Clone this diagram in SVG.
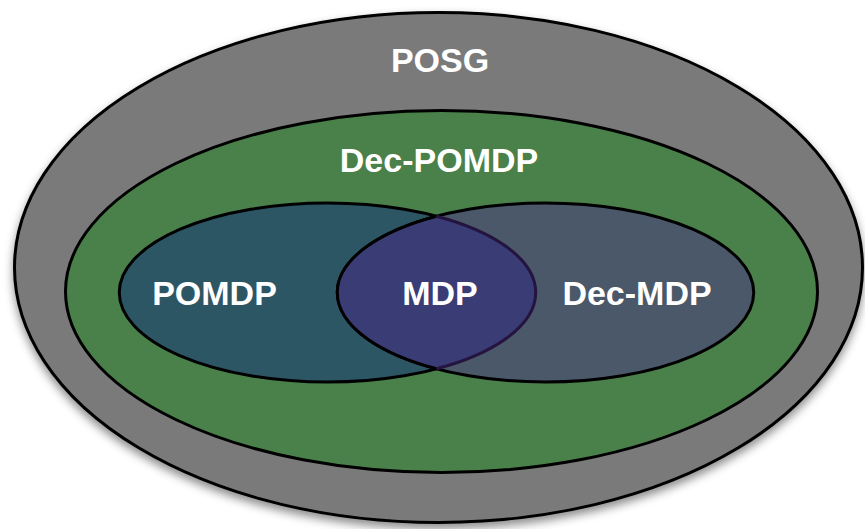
<svg xmlns="http://www.w3.org/2000/svg" width="865" height="529" viewBox="0 0 865 529">
  <defs>
    <filter id="shadow" x="-10%" y="-10%" width="120%" height="125%">
      <feDropShadow dx="0" dy="5" stdDeviation="5" flood-color="#000" flood-opacity="0.45"/>
    </filter>
  </defs>
  <style>
    .set { stroke: #000; stroke-width: 3; }
    .label { font-family: "Liberation Sans", Arial, sans-serif; font-weight: bold; font-size: 34px; fill: #fff; text-anchor: middle; }
  </style>
  <rect width="865" height="529" fill="#fff"/>

  <g id="posg">
    <ellipse class="set" cx="438.5" cy="267.5" rx="424" ry="255" fill="#7a7a7a" filter="url(#shadow)"/>
    <text class="label" x="440" y="72">POSG</text>
  </g>

  <g id="dec-pomdp">
    <ellipse class="set" cx="441.5" cy="291.5" rx="376" ry="181" fill="#4a8049"/>
    <text class="label" x="439" y="172">Dec-POMDP</text>
  </g>

  <g id="pomdp">
    <ellipse class="set" cx="327.5" cy="292.5" rx="208.25" ry="89.5" fill="#2d5665"/>
    <text class="label" x="214.5" y="305">POMDP</text>
  </g>

  <g id="dec-mdp">
    <ellipse class="set" cx="545.5" cy="292.5" rx="208.25" ry="89.5" fill="#4a5869"/>
    <text class="label" x="637" y="305">Dec-MDP</text>
  </g>

  <g id="mdp">
    <path d="M436.5,216.25 A208.25,89.5 0 0 0 436.5,368.75 A208.25,89.5 0 0 0 436.5,216.25 Z" fill="#3a3c75"/>
    <path d="M436.5,216.25 A208.25,89.5 0 0 0 436.5,368.75" fill="none" stroke="#000" stroke-width="3"/>
    <path d="M436.5,368.75 A208.25,89.5 0 0 0 436.5,216.25" fill="none" stroke="#24143f" stroke-width="3"/>
    <text class="label" x="440" y="305">MDP</text>
  </g>

  <g id="connectors"/>
</svg>
